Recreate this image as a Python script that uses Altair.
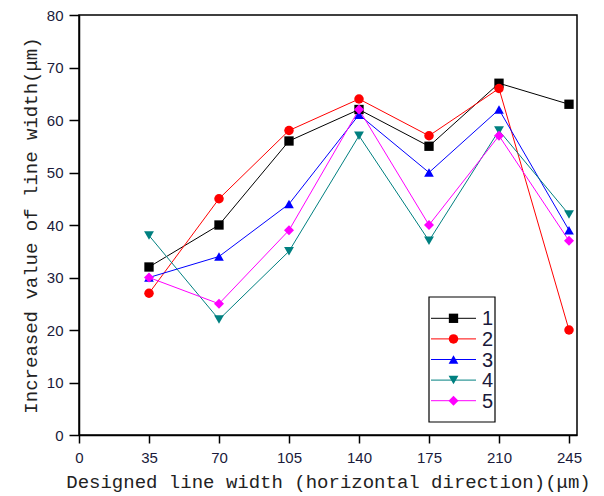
import altair as alt
import pandas as pd

# ---- data ----
x_values = [35, 70, 105, 140, 175, 210, 245]
series_names = ["1", "2", "3", "4", "5"]
s1 = [32, 40, 56, 62, 55, 67, 63]
s2 = [27, 45, 58, 64, 57, 66, 20]
s3 = [30, 34, 44, 61, 50, 62, 39]
s4 = [38, 22, 35, 57, 37, 58, 42]
s5 = [30, 25, 39, 62, 40, 57, 37]
series_values = [s1, s2, s3, s4, s5]

colors = ["#000000", "#FF0000", "#0000FF", "#008080", "#FF00FF"]
shapes = ["square", "circle", "triangle-up", "triangle-down", "diamond"]
sizes = [87, 100, 150, 150, 177]

rows = []
for name, vals in zip(series_names, series_values):
    for xv, yv in zip(x_values, vals):
        rows.append({"x": xv, "y": yv, "series": name})
df = pd.DataFrame(rows)
legend_df = pd.DataFrame({"series": series_names})

FONT_LAB = "Liberation Sans"
FONT_TITLE = "Liberation Mono"

x_enc = alt.X(
    "x:Q",
    scale=alt.Scale(domain=[0, 249], nice=False, zero=False),
    axis=alt.Axis(
        values=[i * 17.5 for i in range(15)],
        labelExpr="datum.value % 35 === 0 ? datum.label : ''",
        tickSize={"condition": {"test": "datum.value % 35 === 0", "value": 8}, "value": 5},
        title="Designed line width (horizontal direction)(μm)",
        titleFont=FONT_TITLE,
        titleFontSize=19,
        titleFontWeight="normal",
        titleColor="#222222",
        titlePadding=7,
        labelFont=FONT_LAB,
        labelFontSize=15,
        labelColor="#1a1a3a",
        labelPadding=7,
        labelOverlap=False,
        labelFlush=False,
        grid=False,
        domainColor="#000000",
        domainWidth=1.5,
        tickColor="#000000",
        tickWidth=1.5,
    ),
)
y_enc = alt.Y(
    "y:Q",
    scale=alt.Scale(domain=[0, 80], nice=False),
    axis=alt.Axis(
        values=[i * 5 for i in range(17)],
        labelExpr="datum.value % 10 === 0 ? datum.label : ''",
        tickSize={"condition": {"test": "datum.value % 10 === 0", "value": 10}, "value": 4},
        title="Increased value of line width(μm)",
        titleFont=FONT_TITLE,
        titleFontSize=19,
        titleFontWeight="normal",
        titleColor="#222222",
        titlePadding=6,
        labelFont=FONT_LAB,
        labelFontSize=15,
        labelColor="#1a1a3a",
        labelPadding=6,
        labelOverlap=False,
        labelFlush=False,
        grid=False,
        domainColor="#000000",
        domainWidth=1.5,
        tickColor="#000000",
        tickWidth=1.5,
    ),
)

cscale = alt.Scale(domain=series_names, range=colors)
shscale = alt.Scale(domain=series_names, range=shapes)
szscale = alt.Scale(domain=series_names, range=sizes)

base = alt.Chart(df)

lines = base.mark_line(strokeWidth=1).encode(
    x=x_enc,
    y=y_enc,
    color=alt.Color("series:N", scale=cscale, legend=None),
    detail="series:N",
)

points = base.mark_point(filled=True, opacity=1).encode(
    x="x:Q",
    y="y:Q",
    color=alt.Color("series:N", scale=cscale, legend=None),
    shape=alt.Shape("series:N", scale=shscale, legend=None),
    size=alt.Size("series:N", scale=szscale, legend=None),
)

main = alt.layer(lines, points)

# ---- legend box (drawn as marks) ----
lbase = alt.Chart(legend_df)
ly = alt.Y("series:N", scale=alt.Scale(domain=series_names, range=[293, 396], padding=0), axis=None)

leg_box = lbase.transform_filter("datum.series === '1'").mark_rect(
    fill="#FFFFFF", stroke="#000000", strokeWidth=1.2
).encode(x=alt.value(350), x2=alt.value(416), y=alt.value(282), y2=alt.value(407))

leg_line = lbase.mark_rule(strokeWidth=1).encode(
    x=alt.value(352),
    x2=alt.value(397),
    y=ly,
    color=alt.Color("series:N", scale=cscale, legend=None),
)
leg_pts = lbase.mark_point(filled=True, opacity=1).encode(
    x=alt.value(374.5),
    y="series:N",
    color=alt.Color("series:N", scale=cscale, legend=None),
    shape=alt.Shape("series:N", scale=shscale, legend=None),
    size=alt.Size("series:N", scale=szscale, legend=None),
)
leg_txt = lbase.mark_text(
    align="left", baseline="middle", font=FONT_LAB, fontSize=20, color="#1a1a3a", dy=1
).encode(x=alt.value(403), y="series:N", text="series:N")

legend = alt.layer(leg_box, leg_line, leg_pts, leg_txt)

chart = (
    alt.layer(main, legend)
    .resolve_scale(y="independent")
    .properties(
        width=498,
        height=420,
        autosize=alt.AutoSizeParams(type="none"),
        padding={"left": 71, "top": 7, "right": 18, "bottom": 60},
        background="#FFFFFF",
    )
    .configure_view(stroke="#000000", strokeWidth=1.5)
)

chart.save("out.html", embed_options={"renderer": "svg", "actions": False})
